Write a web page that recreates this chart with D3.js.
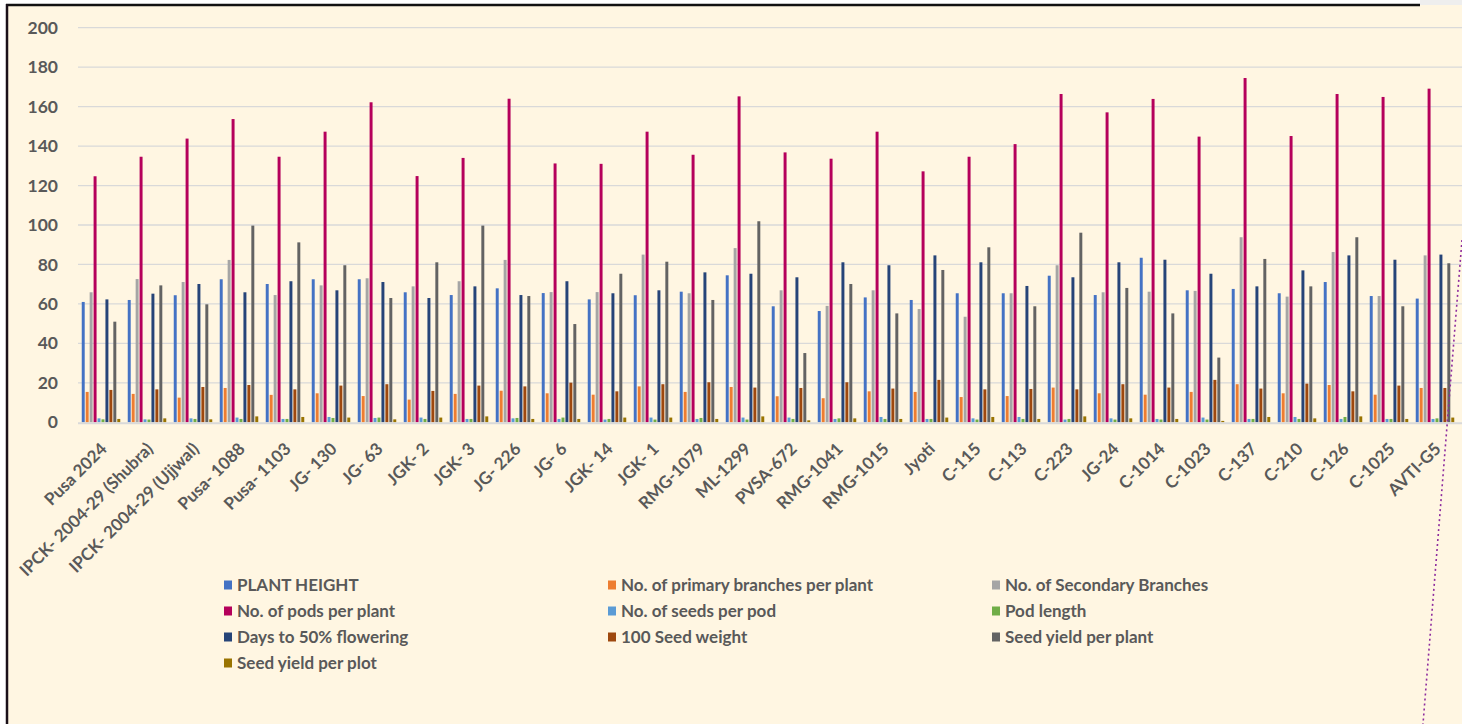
<!DOCTYPE html>
<html>
<head>
<meta charset="utf-8">
<script src="https://cdn.jsdelivr.net/npm/d3@7"></script>
<style>
  html, body { margin: 0; padding: 0; background: #fff; }
  svg { display: block; }
  text { font-family: Lato, "Open Sans", sans-serif; font-weight: bold; fill: #595959; }
</style>
</head>
<body>
<svg id="chart" width="1462" height="724"></svg>
<script>
// categories (genotypes)
const categories = ["Pusa 2024", "IPCK- 2004-29 (Shubra)", "IPCK- 2004-29 (Ujjwal)", "Pusa- 1088", "Pusa- 1103",
  "JG- 130", "JG- 63", "JGK- 2", "JGK- 3", "JG- 226", "JG- 6", "JGK- 14", "JGK- 1", "RMG-1079", "ML-1299",
  "PVSA-672", "RMG-1041", "RMG-1015", "Jyoti", "C-115", "C-113", "C-223", "JG-24", "C-1014", "C-1023",
  "C-137", "C-210", "C-126", "C-1025", "AVTI-G5"];

const seriesNames = ["PLANT HEIGHT", "No. of primary branches per plant", "No. of Secondary Branches",
  "No. of pods per plant", "No. of seeds per pod", "Pod length", "Days to 50% flowering",
  "100 Seed weight", "Seed yield per plant", "Seed yield per plot"];

const plantHeight = [61, 62, 64.4, 72.5, 70.1, 72.5, 72.5, 65.9, 64.5, 67.9, 65.5, 62.3, 64.4, 66.2, 74.5,
  58.8, 56.4, 63.3, 62, 65.4, 65.4, 74.3, 64.5, 83.4, 66.9, 67.6, 65.4, 71.1, 64, 62.7];
const primaryBranches = [15.4, 14.4, 12.5, 17.4, 13.9, 14.7, 13.3, 11.5, 14.4, 16, 14.7, 14, 18.2, 15.4, 17.9,
  13.2, 12.2, 15.7, 15.4, 12.8, 13.3, 17.6, 14.7, 14, 15.4, 19.3, 14.7, 18.9, 14, 17.4];
const secondaryBranches = [65.9, 72.6, 71.1, 82.3, 64.5, 69.4, 73, 68.9, 71.5, 82.3, 66, 66, 85, 65.4, 88.3,
  66.9, 59, 66.9, 57.4, 53.5, 65.4, 79.6, 65.9, 66.2, 66.6, 93.8, 63.7, 86.3, 64, 84.6];
const podsPerPlant = [124.7, 134.6, 143.8, 153.7, 134.6, 147.3, 162.2, 124.8, 134, 164, 131.2, 131, 147.3, 135.6, 165.2,
  136.8, 133.6, 147.3, 127.2, 134.6, 141, 166.4, 157.1, 163.9, 144.8, 174.5, 145.1, 166.4, 164.9, 169.1];
const seedsPerPod = [2, 1.5, 2, 2.4, 1.7, 2.7, 2.2, 2.4, 1.7, 2, 1.7, 1.4, 2.4, 1.7, 2.4,
  2.4, 1.7, 2.7, 1.7, 2, 2.7, 1.4, 2, 1.7, 2.4, 1.7, 2.7, 1.7, 1.7, 1.7];
const podLength = [1.5, 1.4, 1.7, 1.7, 1.7, 2.2, 2.4, 1.7, 1.7, 2.2, 2.4, 1.7, 1.4, 2.2, 1.4,
  1.7, 2, 1.7, 1.7, 1.4, 1.7, 1.7, 1.4, 1.4, 1.4, 1.7, 1.7, 2.7, 1.7, 2];
const daysFlowering = [62.3, 65.2, 70.1, 65.9, 71.5, 66.9, 71.1, 63, 68.9, 64.5, 71.5, 65.4, 66.9, 76, 75.3,
  73.5, 81.1, 79.6, 84.6, 81.1, 69.1, 73.5, 81.1, 82.4, 75.3, 68.9, 77, 84.6, 82.4, 85];
const seedWeight = [16.4, 16.7, 17.9, 18.9, 16.7, 18.6, 19.3, 15.9, 18.6, 18.2, 20.1, 15.7, 19.3, 20.3, 17.6,
  17.4, 20.3, 17.1, 21.5, 16.7, 16.9, 16.7, 19.3, 17.6, 21.5, 17.1, 19.6, 15.7, 18.6, 17.4];
const yieldPlant = [51, 69.4, 59.8, 99.7, 91.2, 79.6, 63, 81.1, 99.7, 64, 49.8, 75.3, 81.4, 62, 101.9,
  35.1, 70.1, 55.2, 77.2, 88.7, 58.8, 96.1, 68.1, 55.2, 32.8, 82.8, 68.9, 93.8, 58.8, 80.6];
const yieldPlot = [1.7, 2, 1.5, 3, 2.7, 2.4, 1.5, 2.4, 3, 1.7, 1.7, 2.4, 2.4, 1.7, 3,
  1, 2, 1.7, 2.4, 2.7, 1.7, 3, 2, 1.7, 0.7, 2.7, 2, 3, 1.7, 2.4];

const yTicks = [0, 20, 40, 60, 80, 100, 120, 140, 160, 180, 200];

const colors = ["#4472C4", "#ED7D31", "#A5A5A5", "#B5005B", "#5B9BD5", "#70AD47", "#264478", "#9E480E", "#636363", "#997300"];

const seriesValues = [plantHeight, primaryBranches, secondaryBranches, podsPerPlant, seedsPerPod,
  podLength, daysFlowering, seedWeight, yieldPlant, yieldPlot];

const svg = d3.select("#chart");

// chart area background + frame
svg.append("rect").attr("x", 1420).attr("y", 0).attr("width", 42).attr("height", 5).attr("fill", "#eeeeee");
svg.append("rect").attr("x", 7).attr("y", 5).attr("width", 1455).attr("height", 719).attr("fill", "#FFF6E2");
svg.append("line").attr("x1", 6).attr("x2", 1420).attr("y1", 5).attr("y2", 5)
  .attr("stroke", "#111").attr("stroke-width", 2.5);
svg.append("line").attr("x1", 7).attr("x2", 7).attr("y1", 4).attr("y2", 724)
  .attr("stroke", "#1a1018").attr("stroke-width", 2.5);

const margin = {left: 78, right: 1458, top: 27.7, bottom: 422.3};

const x0 = d3.scaleBand().domain(categories).range([margin.left, margin.right])
  .paddingInner(0.12).paddingOuter(0.06);
const x1 = d3.scaleBand().domain(d3.range(seriesNames.length)).range([0, x0.bandwidth()]).padding(0.25);
const y = d3.scaleLinear().domain([0, 200]).range([margin.bottom, margin.top]);

// gridlines
svg.append("g")
  .selectAll("line")
  .data(yTicks.filter(d => d > 0))
  .join("line")
  .attr("x1", margin.left).attr("x2", 1462)
  .attr("y1", d => y(d)).attr("y2", d => y(d))
  .attr("stroke", "#D9D9D9").attr("stroke-width", 1.3);

// y axis labels
const yAxis = d3.axisLeft(y).tickValues(yTicks).tickSize(0).tickPadding(0);
svg.append("g")
  .attr("transform", `translate(58,0)`)
  .call(yAxis)
  .call(g => g.select(".domain").remove())
  .selectAll("text")
  .style("font-size", "17.5px")
  .style("font-family", "Lato, sans-serif")
  .attr("fill", "#595959");

// bars
const groups = svg.append("g")
  .selectAll("g")
  .data(categories)
  .join("g")
  .attr("transform", d => `translate(${x0(d)},0)`);

groups.selectAll("rect")
  .data((d, i) => seriesValues.map((s, k) => ({k: k, v: s[i]})))
  .join("rect")
  .attr("x", d => x1(d.k))
  .attr("width", x1.bandwidth())
  .attr("y", d => y(d.v))
  .attr("height", d => y(0) - y(d.v))
  .attr("fill", d => colors[d.k]);

// category axis
svg.append("line")
  .attr("x1", margin.left).attr("x2", 1462)
  .attr("y1", y(0) + 1).attr("y2", y(0) + 1)
  .attr("stroke", "#D9D9D9").attr("stroke-width", 2);

svg.append("g")
  .selectAll("text")
  .data(categories)
  .join("text")
  .attr("transform", d => `translate(${x0(d) + x0.bandwidth() / 2 + 7},450) rotate(-45)`)
  .attr("text-anchor", "end")
  .style("font-size", "17px")
  .text(d => d);

// legend, 3 equal columns
const legendCols = [224, 608, 992];
const legend = svg.append("g")
  .selectAll("g")
  .data(seriesNames)
  .join("g")
  .attr("transform", (d, i) => `translate(${legendCols[i % 3]},${585 + Math.floor(i / 3) * 26})`);

legend.append("rect")
  .attr("x", 0).attr("y", -4.5).attr("width", 8).attr("height", 9)
  .attr("fill", (d, i) => colors[i]);

legend.append("text")
  .attr("x", 13).attr("y", 6)
  .style("font-size", "17px")
  .text(d => d);

// dotted trendline-like stroke at right edge
svg.append("line")
  .attr("x1", 1462).attr("y1", 240).attr("x2", 1423).attr("y2", 724)
  .attr("stroke", "#8E2C9E").attr("stroke-width", 1.6)
  .attr("stroke-dasharray", "2,3");
</script>
</body>
</html>
